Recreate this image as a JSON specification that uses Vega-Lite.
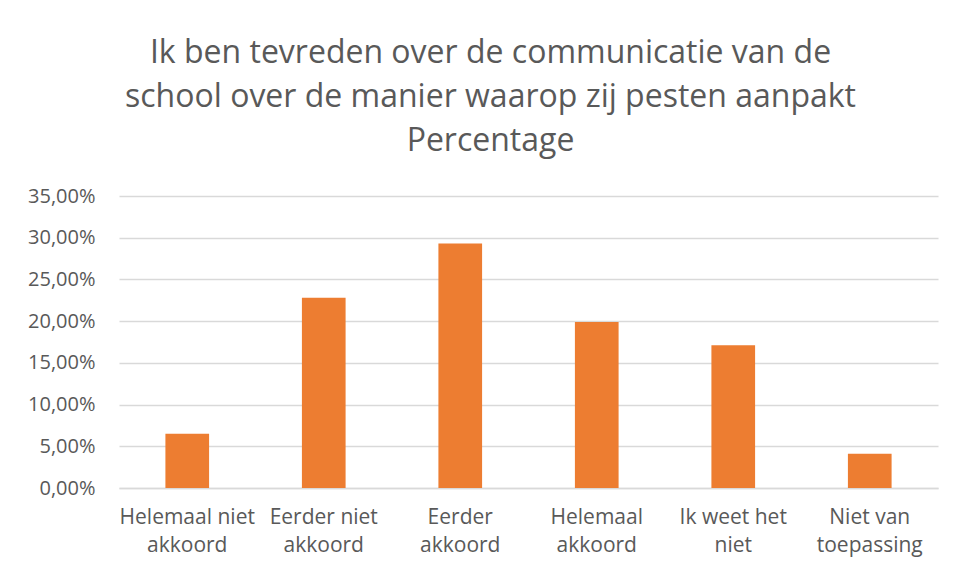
{
  "$schema": "https://vega.github.io/schema/vega-lite/v6.json",
  "width": 819,
  "height": 292,
  "autosize": {"type": "none"},
  "padding": {"left": 119, "top": 196, "right": 18, "bottom": 89},
  "background": "white",
  "config": {
    "locale": {"number": {"decimal": ",", "thousands": ".", "grouping": [3], "currency": ["€", ""]}},
    "view": {"stroke": null},
    "font": "Open Sans"
  },
  "title": {
    "text": ["Ik ben tevreden over de communicatie van de", "school over de manier waarop zij pesten aanpakt", "Percentage"],
    "anchor": "middle",
    "frame": "group",
    "dx": -38,
    "fontSize": 32,
    "fontWeight": "normal",
    "font": "Open Sans",
    "color": "#595959",
    "lineHeight": 44,
    "offset": 28
  },
  "data": {
    "values": [
      {"categorie": "Helemaal niet\nakkoord", "percentage": 0.065},
      {"categorie": "Eerder niet\nakkoord", "percentage": 0.228},
      {"categorie": "Eerder\nakkoord", "percentage": 0.293},
      {"categorie": "Helemaal\nakkoord", "percentage": 0.199},
      {"categorie": "Ik weet het\nniet", "percentage": 0.171},
      {"categorie": "Niet van\ntoepassing", "percentage": 0.041}
    ]
  },
  "mark": {"type": "bar", "color": "#ED7D31"},
  "encoding": {
    "x": {
      "field": "categorie",
      "type": "nominal",
      "sort": null,
      "scale": {"paddingInner": 0.68, "paddingOuter": 0.34},
      "axis": {
        "title": null,
        "labelAngle": 0,
        "labelExpr": "split(datum.value, '\\n')",
        "labelFontSize": 21,
        "labelColor": "#595959",
        "labelLineHeight": 28,
        "labelPadding": 18,
        "ticks": false,
        "domain": true,
        "domainColor": "#d9d9d9",
        "domainWidth": 1.5,
        "labelLimit": 200
      }
    },
    "y": {
      "field": "percentage",
      "type": "quantitative",
      "scale": {"domain": [0, 0.35], "nice": false},
      "axis": {
        "title": null,
        "format": ".2%",
        "values": [0, 0.05, 0.1, 0.15, 0.2, 0.25, 0.3, 0.35],
        "labelFontSize": 20,
        "labelColor": "#595959",
        "labelPadding": 24,
        "ticks": false,
        "domain": false,
        "grid": true,
        "gridColor": "#d9d9d9",
        "gridWidth": 1.5
      }
    }
  }
}
